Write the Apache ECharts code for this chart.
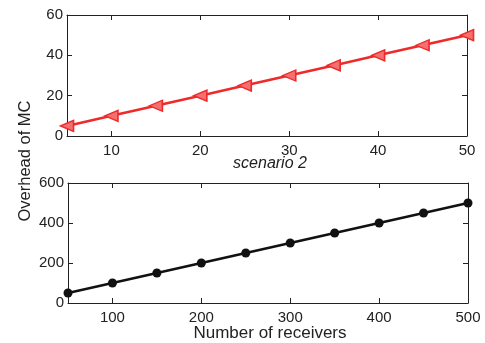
<!DOCTYPE html>
<html><head><meta charset="utf-8">
<script src="https://cdn.jsdelivr.net/npm/echarts@6/dist/echarts.min.js"></script>
<style>html,body{margin:0;padding:0;background:#fff}#c{width:485px;height:343px}</style>
</head><body><div id="c"></div>
<script>
const topX = [5,10,15,20,25,30,35,40,45,50];
const topY = [5,10,15,20,25,30,35,40,45,50];
const botX = [50,100,150,200,250,300,350,400,450,500];
const botY = [50,100,150,200,250,300,350,400,450,500];
const topXTicks = [10,20,30,40,50];
const botXTicks = [100,200,300,400,500];

const font = 'Liberation Sans, Arial, Helvetica, sans-serif';
const lab = {color:'#222', fontSize:15, fontFamily:font};
function line(){ return {show:true, onZero:false, lineStyle:{color:'#222', width:1}}; }
function tick(){ return {show:true, inside:true, length:5, lineStyle:{color:'#222', width:1}}; }

function xa(grid, min, max, interval, pos, showLab, ticks){
  const a = {type:'value', gridIndex:grid, min, max, interval, position:pos,
    axisLine:line(), axisTick:tick(), splitLine:{show:false},
    axisLabel: showLab ? Object.assign({margin:7}, lab) : {show:false}};
  a.axisTick.customValues = ticks;
  if (showLab) a.axisLabel.customValues = ticks;
  return a;
}
function ya(grid, min, max, interval, pos, showLab){
  return {type:'value', gridIndex:grid, min, max, interval, position:pos,
    axisLine:line(), axisTick:tick(), splitLine:{show:false},
    axisLabel: showLab ? Object.assign({margin:4}, lab) : {show:false}};
}
const chart = echarts.init(document.getElementById('c'));

chart.setOption({
  animation:false,
  grid:[
    {left:67, top:15, width:400, height:121},
    {left:68, top:183, width:400, height:120}
  ],
  xAxis:[xa(0,5,50,5,'bottom',true,topXTicks), xa(0,5,50,5,'top',false,topXTicks),
         xa(1,50,500,50,'bottom',true,botXTicks), xa(1,50,500,50,'top',false,botXTicks)],
  yAxis:[ya(0,0,60,20,'left',true), ya(0,0,60,20,'right',false),
         ya(1,0,600,200,'left',true), ya(1,0,600,200,'right',false)],
  graphic:[
    {type:'text', x:270, y:164, style:{text:'scenario 2', fontSize:16, fontStyle:'italic', fontFamily:font, fill:'#222', textAlign:'center', textVerticalAlign:'middle'}},
    {type:'text', x:270, y:333, style:{text:'Number of receivers', fontSize:17, fontFamily:font, fill:'#222', textAlign:'center', textVerticalAlign:'middle'}},
    {type:'text', x:25, y:161, rotation:Math.PI/2, style:{text:'Overhead of MC', fontSize:16.5, fontFamily:font, fill:'#222', textAlign:'center', textVerticalAlign:'middle'}}
  ],
  series:[
    {type:'line', xAxisIndex:0, yAxisIndex:0, data:topX.map((x,i)=>[x,topY[i]]),
     lineStyle:{color:'#ee2a2a', width:2.5}, symbol:'triangle', symbolRotate:90, symbolSize:[11,13],
     itemStyle:{color:'#f47070', borderColor:'#ee2a2a', borderWidth:1.5}, clip:false},
    {type:'line', xAxisIndex:2, yAxisIndex:2, data:botX.map((x,i)=>[x,botY[i]]),
     lineStyle:{color:'#111', width:2.5}, symbol:'circle', symbolSize:9,
     itemStyle:{color:'#111'}, clip:false}
  ]
});
</script></body></html>
